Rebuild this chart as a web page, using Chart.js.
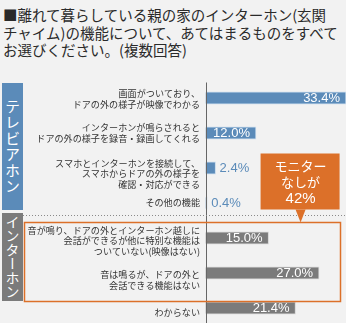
<!DOCTYPE html>
<html>
<head>
<meta charset="utf-8">
<script src="https://cdn.jsdelivr.net/npm/chart.js@4.4.1/dist/chart.umd.min.js"></script>
<style>
  html, body { margin:0; padding:0; background:#fff; overflow:hidden; }
  #panel { position:absolute; left:0; top:0; width:346px; height:323px; background:#f2f2f2; }
  #title { position:absolute; left:3px; top:6px; font:14.5px/17.5px "Noto Sans CJK JP", sans-serif; color:#2a2a2a; white-space:nowrap; }
  #wrap { position:absolute; left:0; top:0; width:358px; height:330px; }
  .grp { position:absolute; left:2px; width:21px; color:#fff; writing-mode:vertical-rl; font-family:"Noto Sans CJK JP", sans-serif;
         display:flex; align-items:center; justify-content:center; }
</style>
</head>
<body>
<div id="panel"></div>
<div id="title">■離れて暮らしている親の家のインターホン(玄関<br>チャイム)の機能について、あてはまるものをすべて<br>お選びください。(複数回答)</div>
<div id="g1" class="grp" style="top:83px;height:127px;background:#5b8bb9;font-size:15px;letter-spacing:1px;"></div>
<div id="g2" class="grp" style="top:213px;height:88px;background:#7b7b7b;font-size:14px;"></div>
<div id="wrap"><canvas id="mycanvas"></canvas></div>
<script>
var categories = [
  ['画面がついており、', 'ドアの外の様子が映像でわかる'],
  ['インターホンが鳴らされると', 'ドアの外の様子を録音・録画してくれる'],
  ['スマホとインターホンを接続して、', 'スマホからドアの外の様子を', '確認・対応ができる'],
  ['その他の機能'],
  ['音が鳴り、ドアの外とインターホン越しに', '会話ができるが他に特別な機能は', 'ついていない(映像はない)'],
  ['音は鳴るが、ドアの外と', '会話できる機能はない'],
  ['わからない']
];
var values = [33.4, 12.0, 2.4, 0.4, 15.0, 27.0, 21.4];
var groupNames = ['テレビアホン', 'インターホン'];
var calloutLines = ['モニター', 'なしが', '42%'];

var blue = '#5b8bb9', gray = '#7b7b7b', orange = '#dc7029';

document.getElementById('g1').textContent = groupNames[0];
document.getElementById('g2').textContent = groupNames[1];

var barColors = values.map(function(v, i){ return i < 4 ? blue : gray; });
var edgeColors = values.map(function(v, i){ return i < 4 ? '#c9dbec' : '#d6d6d6'; });
var nudge = [1, 0, 6, 0, 3, 7, 5];

var overlay = {
  id: 'overlay',
  afterDatasetsDraw: function(chart){
    var ctx = chart.ctx, xs = chart.scales.x, ys = chart.scales.y;
    var x0 = xs.getPixelForValue(0);
    var meta = chart.getDatasetMeta(0);
    ctx.save();

    // axis line
    ctx.strokeStyle = '#666';
    ctx.lineWidth = 1;
    ctx.beginPath();
    ctx.moveTo(Math.round(x0) + 0.5, chart.chartArea.top + 2);
    ctx.lineTo(Math.round(x0) + 0.5, 330);
    ctx.stroke();

    // dotted separator
    var ySep = Math.round((ys.getPixelForValue(3) + ys.getPixelForValue(4)) / 2) - 5.5;
    ctx.strokeStyle = '#8a8a8a';
    ctx.setLineDash([1, 2]);
    ctx.beginPath();
    ctx.moveTo(23, ySep);
    ctx.lineTo(346, ySep);
    ctx.stroke();
    ctx.setLineDash([]);

    // orange frame
    var yTop = Math.round((ys.getPixelForValue(3) + ys.getPixelForValue(4)) / 2) + 1.5;
    var yBot = Math.round((ys.getPixelForValue(5) + ys.getPixelForValue(6)) / 2) + 10.5;
    ctx.strokeStyle = orange;
    ctx.lineWidth = 1.5;
    ctx.strokeRect(24.5, yTop, 316, yBot - yTop);

    // category labels
    ctx.fillStyle = '#333';
    ctx.font = '9.1px "Noto Sans CJK JP"';
    ctx.textAlign = 'right';
    ctx.textBaseline = 'middle';
    categories.forEach(function(lines, i){
      var yc = ys.getPixelForValue(i) + nudge[i];
      var lh = 10.8;
      var start = yc - (lines.length - 1) * lh / 2;
      lines.forEach(function(t, k){ ctx.fillText(t, 200, start + k * lh); });
    });

    // value labels
    ctx.font = '13px "Liberation Sans"';
    values.forEach(function(v, i){
      var bar = meta.data[i];
      var txt = v.toFixed(1) + '%';
      if (v >= 10) {
        ctx.fillStyle = '#fff';
        ctx.textAlign = 'right';
        ctx.fillText(txt, bar.x - 6, bar.y + 0.5);
      } else {
        ctx.fillStyle = blue;
        ctx.textAlign = 'left';
        ctx.fillText(txt, bar.x + 4, bar.y + 0.5);
      }
    });

    // callout
    var cx = xs.getPixelForValue(22.6);
    var bx = cx - 40, by = yTop - 69, bw = 79, bh = 56;
    ctx.fillStyle = orange;
    ctx.fillRect(bx, by, bw, bh);
    ctx.beginPath();
    ctx.moveTo(cx - 5, by + bh);
    ctx.lineTo(cx + 5, by + bh);
    ctx.lineTo(cx, yTop);
    ctx.closePath();
    ctx.fill();
    ctx.fillStyle = '#fff';
    ctx.textAlign = 'center';
    calloutLines.forEach(function(t, k){
      ctx.font = k === 2 ? '15px "Liberation Sans"' : '13px "Noto Sans CJK JP"';
      ctx.fillText(t, cx, by + 13 + k * 16);
    });
    ctx.restore();
  }
};

var chartdata = {
  labels: categories,
  datasets: [{
    data: values,
    backgroundColor: barColors,
    borderColor: edgeColors,
    borderWidth: 1,
    borderSkipped: 'start',
    barThickness: 12.5
  }]
};

var opt = {
  animation: false,
  responsive: true,
  maintainAspectRatio: false,
  indexAxis: 'y',
  layout: { padding: { left: 205.5, right: 12, top: 80.5, bottom: 4.5 } },
  plugins: { legend: { display: false }, tooltip: { enabled: false } },
  scales: {
    x: { display: false, min: 0, max: 33.4 },
    y: { display: false }
  }
};

var ctx = document.getElementById('mycanvas');
var graph = new Chart(ctx, { type: 'bar', data: chartdata, options: opt, plugins: [overlay] });
</script>
</body>
</html>
